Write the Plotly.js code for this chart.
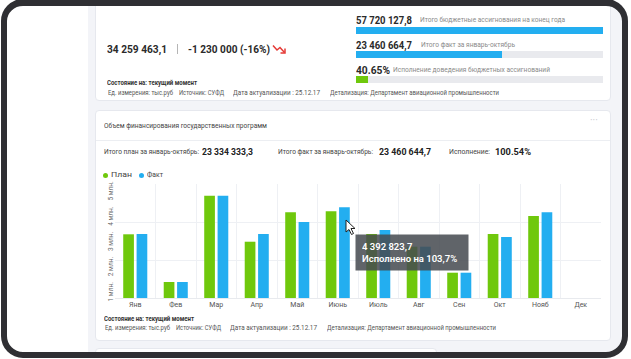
<!DOCTYPE html>
<html><head><meta charset="utf-8">
<script src="https://cdn.plot.ly/plotly-3.0.1.min.js"></script>
<style>
html,body{margin:0;padding:0}
body{width:631px;height:359px;overflow:hidden;position:relative;background:#fff;font-family:Roboto,"Noto Sans",sans-serif;color:#333}
.a{position:absolute;white-space:nowrap}
.card{position:absolute;background:#fff;border:1px solid #e6e8ee;border-radius:4px;box-sizing:border-box}
</style></head><body>
<div class="a" style="left:88px;top:0;width:545px;height:359px;background:#f3f4f8"></div>
<div class="card" style="left:95px;top:-6px;width:516px;height:107px"></div>
<div class="card" style="left:95px;top:110px;width:516px;height:231px"></div>
<div class="card" style="left:95px;top:348px;width:342px;height:30px"></div>
<div class="a" style="left:96px;top:140px;width:514px;height:1px;background:#eceef2"></div>
<div id="chart" class="a" style="left:95px;top:160px;width:516px;height:153px"></div>
<div id="txt"></div>
<svg class="a" style="left:272px;top:44px" width="15" height="11" viewBox="0 0 15 11">
  <polyline points="1,1.5 5,6 8,3.5 12.5,8.5" fill="none" stroke="#e53935" stroke-width="1.5"/>
  <polyline points="8.5,9 13,9 13,4.5" fill="none" stroke="#e53935" stroke-width="1.5"/>
</svg>
<svg class="a" style="left:345px;top:219px" width="12" height="17" viewBox="0 0 12 17">
  <path d="M1,1 L1,13 L4,10.5 L6.5,15.5 L8.5,14.5 L6,9.5 L10,9.5 Z" fill="#fff" stroke="#222" stroke-width="1"/>
</svg>
<div class="a" style="left:1px;top:-1px;width:627px;height:359px;box-sizing:border-box;border:6px solid #2f2f33;border-top-width:7px;border-radius:22px;box-shadow:0 0 0 30px #fff"></div>
<script>
// ---- data ----
const months = ['Янв','Фев','Мар','Апр','Май','Июнь','Июль','Авг','Сен','Окт','Нояб','Дек'];
const planValues = [3318000, 1425000, 4850000, 3024000, 4190000, 4236088, 3330000, 2826000, 1794000, 3330000, 4044000, null];
const factValues = [3330000, 1425000, 4850000, 3330000, 3806000, 4392823.7, 3488000, 2826000, 1794000, 3210000, 4190000, null];
const seriesNames = ['План', 'Факт'];
const seriesColors = ['#6fc80c', '#23aef0'];
const yTickVals = [1000000, 2000000, 3000000, 4000000, 5000000];
const yTickLabels = ['1 млн.', '2 млн.', '3 млн.', '4 млн.', '5 млн.'];
const tooltipIndex = 5;

const headTotal = '34 259 463,1';
const headDelta = '-1 230 000 (-16%)';
const kpiValues = ['57 720 127,8', '23 460 664,7', '40.65%'];
const kpiLabels = ['Итого бюджетные ассигнования на конец года', 'Итого факт за январь-октябрь', 'Исполнение доведения бюджетных ассигнований'];
const kpiFill = [1.0, 0.59, 0.049];
const summaryLabels = ['Итого план за январь-октябрь:', 'Итого факт за январь-октябрь:', 'Исполнение:'];
const summaryValues = ['23 334 333,3', '23 460 644,7', '100.54%'];
const chartTitle = 'Объем финансирования государственных программ';
const stateText = 'Состояние на: текущий момент';
const metaTexts = ['Ед. измерения: тыс.руб', 'Источник: СУФД', 'Дата актуализации : 25.12.17', 'Детализация: Департамент авиационной промышленности'];

// ---- html text ----
const box = document.getElementById('txt');
const fitList = [];
function t(text, x, cy, size, w, opts) {
  opts = opts || {};
  const d = document.createElement('div');
  d.className = 'a';
  const lh = Math.round(size * 1.25);
  d.style.left = x + 'px';
  d.style.top = (cy - lh / 2) + 'px';
  d.style.lineHeight = lh + 'px';
  d.style.fontSize = size + 'px';
  d.style.color = opts.color || '#333';
  d.style.transformOrigin = '0 50%';
  if (opts.bold) d.style.fontWeight = opts.bold;
  d.textContent = text;
  box.appendChild(d);
  if (w) fitList.push([d, w]);
  return d;
}
function fit() {
  fitList.forEach(([d, w]) => {
    d.style.transform = 'none';
    const cw = d.getBoundingClientRect().width;
    if (cw > 0) d.style.transform = 'scaleX(' + (w / cw) + ')';
  });
}
function rect(x, y, w, h, c, r) {
  const d = document.createElement('div');
  d.className = 'a';
  Object.assign(d.style, {left: x + 'px', top: y + 'px', width: w + 'px', height: h + 'px', background: c, borderRadius: (r || 0) + 'px'});
  box.appendChild(d);
}
t(headTotal, 107, 49, 11.5, 60, {bold: 700, color: '#2a2a2a'});
rect(176.5, 44, 1, 10, '#b5b5b5');
t(headDelta, 188, 49, 11.5, 82, {bold: 700, color: '#2a2a2a'});
t(stateText, 107, 83, 6.3, 90, {bold: 700, color: '#333'});
const metaW = [65, 45, 87, 169];
[108, 179, 233, 330].forEach((x, i) => t(metaTexts[i], x, 93, 6.3, metaW[i], {color: '#555'}));

const kpiY = [20, 45, 70];
const kpiW = [56, 56, 34];
const labelX = [420, 421, 393];
const labelW = [145, 94, 157];
const barY = [27, 51, 76];
kpiValues.forEach((v, i) => {
  t(v, 356, kpiY[i], 10, kpiW[i], {bold: 700, color: '#2a2a2a'});
  t(kpiLabels[i], labelX[i], kpiY[i], 6.5, labelW[i], {color: '#8a8a8a'});
  rect(356, barY[i], 247, 7, '#e9eaee');
  rect(356, barY[i], 247 * kpiFill[i], 7, i === 2 ? seriesColors[0] : seriesColors[1]);
});

t(chartTitle, 104, 126, 7, 163, {color: '#444'});
t('···', 590, 120, 10, 0, {color: '#c8cad0'});
const sumLX = [104, 278, 449], sumLW = [95, 95, 41];
const sumVX = [202, 379, 495], sumVW = [51, 52, 36];
summaryLabels.forEach((l, i) => {
  t(l, sumLX[i], 152, 7, sumLW[i], {color: '#444'});
  t(summaryValues[i], sumVX[i], 152, 9, sumVW[i], {bold: 700, color: '#222'});
});
// legend
const legX = [105.7, 141.7], legTW = [21, 16];
seriesNames.forEach((n, i) => {
  rect(legX[i] - 2.5, 172.5, 5, 5, seriesColors[i], 3);
  t(n, legX[i] + 5, 175, 7, legTW[i], {color: '#444'});
});
t(stateText, 104, 319, 6.3, 90, {bold: 700, color: '#333'});
[105, 176, 230, 327].forEach((x, i) => t(metaTexts[i], x, 328, 6.3, metaW[i], {color: '#555'}));
fit();
if (document.fonts && document.fonts.ready) document.fonts.ready.then(fit);

// ---- chart ----
function fmt(v) {
  const parts = v.toFixed(1).split('.');
  return parts[0].replace(/\B(?=(\d{3})+(?!\d))/g, ' ') + ',' + parts[1];
}
const pct = (factValues[tooltipIndex] / planValues[tooltipIndex] * 100).toFixed(1).replace('.', ',');

const traces = [planValues, factValues].map((vals, i) => ({
  type: 'bar', x: months, y: vals, name: seriesNames[i],
  marker: {color: seriesColors[i], line: {width: 0}}, hoverinfo: 'skip'
}));

const layout = {
  width: 516, height: 153,
  margin: {l: 20, r: 10, t: 24, b: 15},
  paper_bgcolor: 'rgba(0,0,0,0)', plot_bgcolor: '#fff',
  font: {family: 'Roboto, sans-serif', size: 7, color: '#555'},
  barmode: 'group', bargap: 0.34, bargroupgap: 0.2,
  showlegend: false,
  xaxis: {type: 'category', tickson: 'boundaries', showgrid: true, gridcolor: '#eef0f4', gridwidth: 1,
          ticks: '', showline: true, linecolor: '#e8eaee', tickfont: {size: 7, color: '#555'}, fixedrange: true},
  yaxis: {range: [790000, 5314000], tickmode: 'array', tickvals: yTickVals, ticktext: yTickLabels, tickangle: -90,
          showgrid: false, zeroline: false, ticks: '', showline: false, tickfont: {size: 6.5, color: '#666'},
          minor: {tickmode: 'linear', tick0: 790000, dtick: 1507937, showgrid: true, gridcolor: '#eef0f4', ticks: ''},
          fixedrange: true},
  annotations: [{
    xref: 'paper', yref: 'paper', x: 0.4938, y: 0.5588, xanchor: 'left', yanchor: 'top',
    text: fmt(factValues[tooltipIndex]) + '<br>Исполнено на ' + pct + '%',
    showarrow: false, align: 'left', width: 100, borderpad: 6,
    bgcolor: 'rgba(70,75,80,0.86)',
    font: {color: '#fff', size: 9.5, family: 'Roboto, sans-serif', weight: 600}
  }]
};
Plotly.newPlot('chart', traces, layout, {staticPlot: true, displayModeBar: false});
</script>
</body></html>
